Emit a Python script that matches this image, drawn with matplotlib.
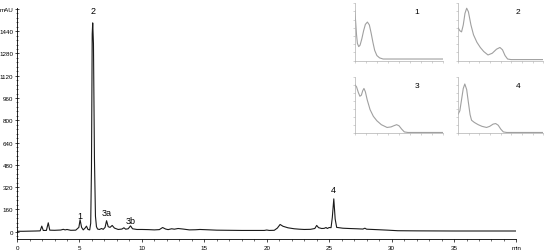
import numpy as np
import matplotlib
matplotlib.use("Agg")
import matplotlib.pyplot as plt
from matplotlib.ticker import MultipleLocator

plt.rcParams['font.family'] = ['Liberation Sans', 'DejaVu Sans']

# chromatogram: time (min), signal (mAU)
t = [0, 0.5, 1.0, 1.5, 1.85, 1.98, 2.1, 2.35, 2.5, 2.62, 3.0, 3.5, 3.7, 3.85, 4.0,
     4.3, 4.7, 4.95, 5.05, 5.17, 5.3, 5.45, 5.56, 5.68, 5.82, 5.9, 5.96, 6.02, 6.06,
     6.12, 6.2, 6.28, 6.36, 6.45, 6.6, 6.77, 6.9, 7.05, 7.17, 7.3, 7.45, 7.62, 7.8,
     8.1, 8.4, 8.56, 8.7, 8.9, 9.09, 9.25, 9.6, 10.0, 10.5, 11.0, 11.4, 11.66,
     11.9, 12.1, 12.38, 12.6, 12.9, 13.3, 13.8, 14.3, 14.65, 15.2, 16, 17, 18,
     19, 19.8, 20.0, 20.2, 20.6, 20.85, 21.07, 21.3, 21.7, 22.2, 22.6, 23.0,
     23.5, 23.85, 24.0, 24.15, 24.4, 24.6, 24.75, 24.85, 25.0, 25.15, 25.25,
     25.37, 25.48, 25.6, 26.1, 26.6, 27.2, 27.7, 27.86, 28.0, 28.5, 29.0, 29.7,
     30.5, 32, 35, 38, 40]
mau = [2, 2, 3, 4, 5, 39, 8, 8, 63, 10, 9, 11, 16, 12, 15,
       9, 10, 30, 85, 30, 12, 25, 39, 15, 12, 60, 450, 1420, 1500,
       1350, 520, 110, 35, 18, 15, 22, 16, 30, 78, 35, 30, 44, 25,
       15, 18, 27, 17, 20, 41, 20, 15, 15, 14, 12, 14, 29,
       18, 14, 20, 17, 22, 18, 12, 13, 15, 13, 10, 9, 8,
       8, 8, 11, 8, 9, 25, 51, 38, 27, 20, 17, 15,
       16, 22, 44, 28, 22, 23, 29, 22, 29, 28, 100,
       235, 90, 30, 24, 22, 20, 18, 24, 17, 15, 13, 10,
       6, 5, 4, 4, 4]

peak_names = ['1', '2', '3a', '3b', '4']
peak_t = [5.05, 6.08, 7.2, 9.1, 25.37]
peak_lab_y = [115, 1590, 135, 80, 300]

yticks = [0, 160, 320, 480, 640, 800, 960, 1120, 1280, 1440, 1600]
ytick_labels = ['0', '160', '320', '480', '640', '800', '960', '1120', '1280', '1440', 'mAU']
xticks = [0, 5, 10, 15, 20, 25, 30, 35, 40]
xtick_labels = ['0', '5', '10', '15', '20', '25', '30', '35', 'min']

# UV spectra in the insets (relative wavelength 0..1, relative absorbance)
spec_x = [
    [0, 0.01, 0.02, 0.03, 0.045, 0.06, 0.08, 0.1, 0.12, 0.143, 0.165, 0.185,
     0.205, 0.225, 0.25, 0.28, 0.32, 1.0],
    [0, 0.02, 0.04, 0.06, 0.08, 0.1, 0.12, 0.15, 0.18, 0.22, 0.26, 0.3, 0.35,
     0.4, 0.45, 0.49, 0.52, 0.55, 0.58, 0.62, 1.0],
    [0, 0.02, 0.04, 0.058, 0.075, 0.09, 0.104, 0.12, 0.14, 0.173, 0.21, 0.25,
     0.3, 0.365, 0.41, 0.44, 0.473, 0.5, 0.53, 0.56, 0.6, 1.0],
    [0, 0.02, 0.04, 0.06, 0.078, 0.1, 0.12, 0.14, 0.157, 0.19, 0.235, 0.28,
     0.333, 0.37, 0.41, 0.44, 0.47, 0.5, 0.53, 0.57, 1.0],
]
spec_y = [
    [0.87, 0.68, 0.45, 0.3, 0.245, 0.27, 0.38, 0.52, 0.63, 0.67, 0.62, 0.48,
     0.32, 0.18, 0.09, 0.05, 0.03, 0.03],
    [0.57, 0.52, 0.5, 0.62, 0.82, 0.91, 0.85, 0.62, 0.45, 0.32, 0.23, 0.16, 0.1,
     0.13, 0.2, 0.23, 0.19, 0.09, 0.03, 0.02, 0.02],
    [0.87, 0.83, 0.73, 0.66, 0.68, 0.76, 0.8, 0.74, 0.6, 0.42, 0.3, 0.22,
     0.15, 0.1, 0.11, 0.13, 0.15, 0.13, 0.07, 0.02, 0.01, 0.01],
    [0.34, 0.4, 0.6, 0.8, 0.88, 0.78, 0.55, 0.33, 0.23, 0.19, 0.15, 0.12,
     0.10, 0.12, 0.16, 0.17, 0.14, 0.07, 0.02, 0.01, 0.01],
]
spec_names = ['1', '2', '3', '4']

fig = plt.figure(figsize=(5.5, 2.51), dpi=100)
ax = fig.add_axes([0.031, 0.043, 0.908, 0.92])
ax.plot(t, mau, color='#1a1a1a', lw=0.8)
for name, x, y in zip(peak_names, peak_t, peak_lab_y):
    ax.text(x, y, name, fontsize=6.5, ha='center', va='center')

ax.set_xlim(0, 40)
ax.set_ylim(-55, 1605)
ax.spines['top'].set_visible(False)
ax.spines['right'].set_visible(False)
ax.spines['left'].set_linewidth(0.6)
ax.spines['bottom'].set_linewidth(0.6)
ax.set_xticks(xticks)
ax.set_xticklabels(xtick_labels, fontsize=4.5)
ax.set_yticks(yticks)
ax.set_yticklabels(ytick_labels, fontsize=4.5)
ax.xaxis.set_minor_locator(MultipleLocator(1))
ax.yaxis.set_minor_locator(MultipleLocator(32))
ax.tick_params(axis='both', which='major', length=2.5, width=0.5, pad=1.5)
ax.tick_params(axis='both', which='minor', length=1.5, width=0.4)
ax.tick_params(axis='y', which='both', direction='inout')

pos = [[0.645, 0.754, 0.161, 0.23], [0.833, 0.754, 0.155, 0.23],
       [0.645, 0.466, 0.161, 0.222], [0.833, 0.466, 0.155, 0.222]]
for p, sx, sy, nm in zip(pos, spec_x, spec_y, spec_names):
    ia = fig.add_axes(p)
    ia.plot(sx, sy, color='#a0a0a0', lw=0.8)
    ia.set_xlim(0, 1)
    ia.set_ylim(0, 1)
    ia.spines['top'].set_visible(False)
    ia.spines['right'].set_visible(False)
    for s in ['left', 'bottom']:
        ia.spines[s].set_color('#b0b0b0')
        ia.spines[s].set_linewidth(0.5)
    ia.xaxis.set_major_locator(MultipleLocator(1 / 8))
    ia.yaxis.set_major_locator(MultipleLocator(1 / 7))
    ia.tick_params(length=1.5, width=0.4, color='#b0b0b0',
                   labelbottom=False, labelleft=False)
    ia.text(0.7, 0.86, nm, transform=ia.transAxes, fontsize=6, ha='center', va='center')
    ia.patch.set_alpha(0)

fig.savefig('out.png', dpi=100)
